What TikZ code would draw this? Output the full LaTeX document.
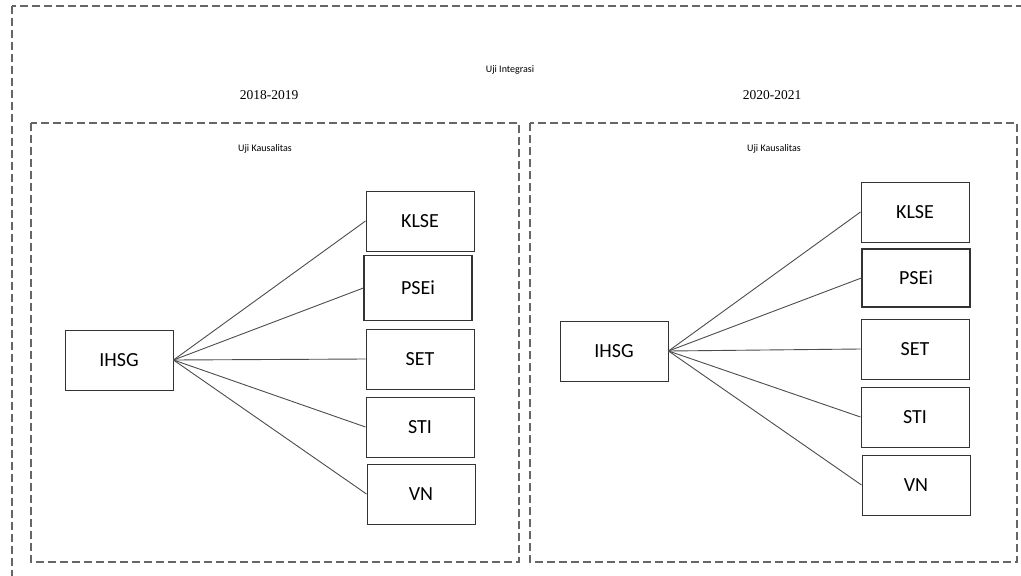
\documentclass[tikz,border=0pt]{standalone}
\usepackage{fontspec}
\setmainfont{Liberation Serif}
\newfontfamily\carlito{Carlito}
\begin{document}
\begin{tikzpicture}
    [
        x=1pt, y=-1pt,
        index/.style={draw=black!80, line width=1pt, minimum width=108pt, minimum height=60pt, inner sep=0pt, font=\carlito\fontsize{20}{24}\selectfont},
        frame/.style={draw=black!60, dash pattern=on 8pt off 4pt, line width=1.1pt},
        link/.style={draw=black!70, line width=0.9pt},
        title/.style={font=\carlito\fontsize{10}{12}\selectfont},
        period/.style={font=\fontsize{13.5}{16}\selectfont}
    ]
    \useasboundingbox (0,0) rectangle (1021,576);
    \clip (0,0) rectangle (1021,576);

    % frames
    \draw[frame] (12,6) rectangle (1040,600);
    \draw[frame] (31,123) rectangle (519,562);
    \draw[frame] (530,123) rectangle (1017,562);

    \node[title] (integrasi) at (510,70) {Uji Integrasi};
    \node[period] (periodA) at (269,95) {2018-2019};
    \node[period] (periodB) at (772,95) {2020-2021};
    \node[title] (kausalA) at (265,149) {Uji Kausalitas};
    \node[title] (kausalB) at (774,149) {Uji Kausalitas};

    % 2018-2019
    \node[index] (IHSGa) at (119,360) {IHSG};
    \node[index] (KLSEa) at (420,221) {KLSE};
    \node[index, line width=1.3pt, minimum height=65pt] (PSEia) at (418,288) {PSEi};
    \node[index] (SETa) at (420,359) {SET};
    \node[index] (STIa) at (420,427) {STI};
    \node[index] (VNa) at (421,494) {VN};

    % 2020-2021
    \node[index] (IHSGb) at (614,351) {IHSG};
    \node[index] (KLSEb) at (915,212) {KLSE};
    \node[index, line width=1.3pt, minimum height=58pt] (PSEib) at (916,278) {PSEi};
    \node[index] (SETb) at (915,349) {SET};
    \node[index] (STIb) at (915,417) {STI};
    \node[index] (VNb) at (916,485) {VN};

    \foreach \t in {KLSE,PSEi,SET,STI,VN}
    {
        \draw[link] (IHSGa.east) -- (\t a.west);
        \draw[link] (IHSGb.east) -- (\t b.west);
    }
\end{tikzpicture}
\end{document}
